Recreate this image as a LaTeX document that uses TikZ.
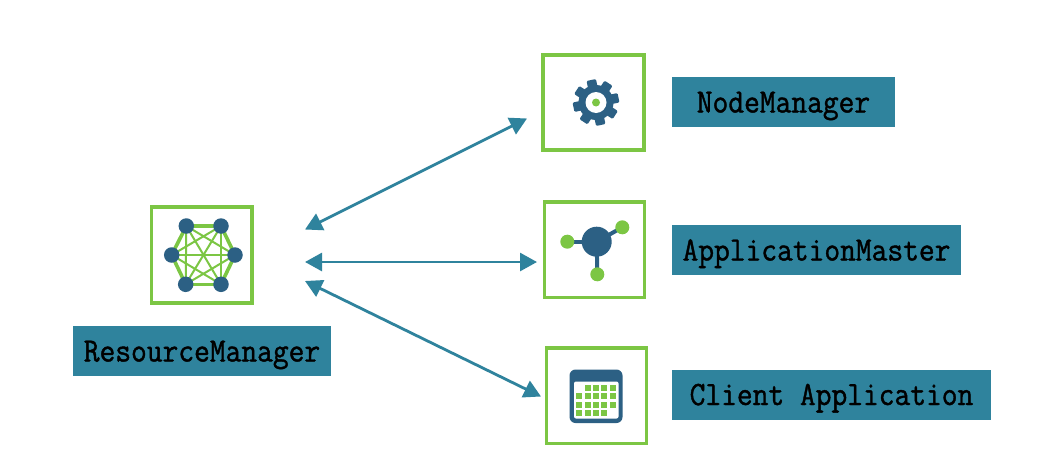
\documentclass[tikz,border=0pt]{standalone}
\usepackage{fontspec}
\setmonofont[FakeBold=1.2,FakeStretch=0.9]{Latin Modern Mono}
\usetikzlibrary{arrows.meta}
\definecolor{teal}{HTML}{2F839D}
\definecolor{lgreen}{HTML}{7CC644}
\definecolor{navy}{HTML}{2C6084}
\tikzset{
  x=1pt,y=-1pt,
  iconbox/.style={draw=lgreen,line width=3.4pt,fill=white},
  tag/.style={fill=teal,text=black,inner sep=0pt,minimum height=50pt,
    font=\fontsize{34}{36}\selectfont\ttfamily,text height=26pt,text depth=5pt},
  link/.style={draw=teal,line width=2.8pt,{Triangle[length=17pt,width=18pt]}-{Triangle[length=17pt,width=18pt]}},
  hub/.style={circle,fill=navy,inner sep=0pt,minimum size=15.5pt},
  bigHub/.style={circle,fill=navy,inner sep=0pt,minimum size=30pt},
  leaf/.style={circle,fill=lgreen,inner sep=0pt,minimum size=14pt},
  mesh/.style={draw=lgreen,line width=2pt},
  rim/.style={draw=lgreen,line width=3.6pt},
  spoke/.style={draw=navy,line width=4pt},
}
\begin{document}
\begin{tikzpicture}
\useasboundingbox (0,0) rectangle (1058,466);
\fill[white] (0,0) rectangle (1058,466);

% icon frames
\draw[iconbox] (151.5,207) rectangle (252,303);
\draw[iconbox] (543,55) rectangle (644,150);
\draw[iconbox] (544.5,202) rectangle (644.5,297.5);
\draw[iconbox] (546.5,348) rectangle (646.5,443.5);

% labels
\node[tag,minimum width=258pt] (rm) at (202,351) {ResourceManager};
\node[tag,minimum width=223pt] (nm) at (783.5,102) {NodeManager};
\node[tag,minimum width=289pt] (am) at (816.5,250) {ApplicationMaster};
\node[tag,minimum width=319pt] (ca) at (831.5,394.5) {Client Application};

% connectors
\coordinate (hubA) at (305,229.5);
\coordinate (hubB) at (305,262);
\coordinate (hubC) at (305,281);
\coordinate (endA) at (527,118.5);
\coordinate (endB) at (537,262);
\coordinate (endC) at (541,396.5);
\draw[link] (hubA) -- (endA);
\draw[link] (hubB) -- (endB);
\draw[link] (hubC) -- (endC);

% resource manager mesh
\coordinate (p1) at (186.3,226);
\coordinate (p2) at (221,226);
\coordinate (p3) at (235,255);
\coordinate (p4) at (221,284.3);
\coordinate (p5) at (185.7,284.3);
\coordinate (p6) at (171.7,255);
\foreach \a/\b in {1/3,1/4,1/5,2/4,2/5,2/6,3/5,3/6,4/6}
  \draw[mesh] (p\a) -- (p\b);
\foreach \a/\b in {1/2,2/3,3/4,4/5,5/6,6/1}
  \draw[rim] (p\a) -- (p\b);
\foreach \i in {1,...,6}
  \node[hub] (h\i) at (p\i) {};

% gear
\begin{scope}[shift={(596,102.5)}]
  \fill[navy] (0,0) circle (17.5pt);
  \foreach \t in {0,...,7}
    \fill[navy,rounded corners=1.2pt,rotate={12+45*\t}] (-4.8,-23) rectangle (4.8,-10);
  \fill[white] (0,0) circle (10.5pt);
  \fill[lgreen] (0,0) circle (4pt);
\end{scope}

% application master molecule
\coordinate (mcp) at (596.7,241.7);
\coordinate (map) at (567.3,241.7);
\coordinate (mbp) at (622.3,227.3);
\coordinate (mdp) at (597.3,274.3);
\draw[spoke] (mcp) -- (map);
\draw[spoke] (mcp) -- (mbp);
\draw[spoke] (mcp) -- (mdp);
\node[bigHub] (mc) at (mcp) {};
\node[leaf] (ma) at (map) {};
\node[leaf] (mb) at (mbp) {};
\node[leaf] (md) at (mdp) {};

% calendar
\fill[navy,rounded corners=6pt] (569.5,369.5) rectangle (622.5,423);
\fill[white,rounded corners=2pt] (574,381.5) rectangle (618.5,418.5);
\foreach \x/\y in {587.7/387.7,596/387.7,604.3/387.7,612.7/387.7,
  579.3/396.3,587.7/396.3,596/396.3,604.3/396.3,612.7/396.3,
  579.3/405,587.7/405,596/405,604.3/405,612.7/405,
  579.3/413.3,587.7/413.3,596/413.3,604.3/413.3}
  \fill[lgreen] (\x-3,\y-3) rectangle (\x+3,\y+3);
\end{tikzpicture}
\end{document}
